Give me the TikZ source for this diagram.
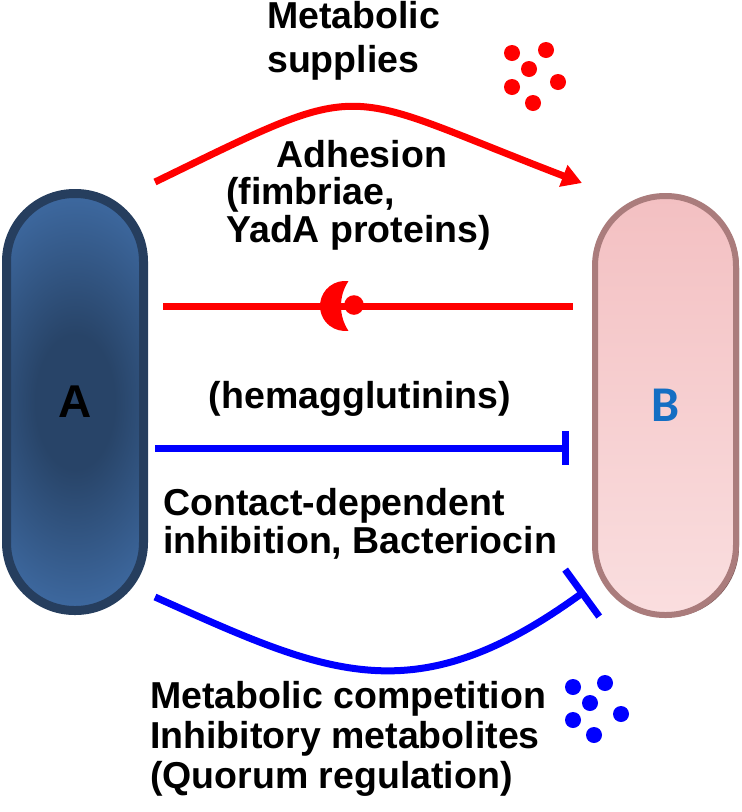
\documentclass[tikz,border=0pt]{standalone}
\usepackage{fontspec}
\setmainfont{Liberation Sans}
\newfontfamily\calib{Carlito}
\usetikzlibrary{arrows.meta,shadows}
\definecolor{Adark}{RGB}{40,68,104}
\definecolor{Alight}{RGB}{74,126,192}
\definecolor{Aborder}{RGB}{38,62,94}
\definecolor{Btop}{RGB}{243,192,194}
\definecolor{Bbot}{RGB}{250,222,223}
\definecolor{Bborder}{RGB}{170,124,124}
\definecolor{Bshadow}{RGB}{120,84,84}
\definecolor{Blabel}{RGB}{20,110,195}
\definecolor{myred}{RGB}{255,0,0}
\definecolor{myblue}{RGB}{0,0,255}
\pgfdeclareradialshading{cellAshade}{\pgfpoint{0bp}{0bp}}{color(0bp)=(Adark); color(3bp)=(Adark); color(13bp)=(Alight); color(50bp)=(Alight)}
\begin{document}
\begin{tikzpicture}[x=1pt,y=-1pt,
  txt/.style={inner sep=0pt, align=left, font=\bfseries\fontsize{37.5}{#1}\selectfont},
  txt/.default=40,
  redline/.style={draw=myred, line width=7pt},
  blueline/.style={draw=myblue, line width=7pt},
  reddot/.style={fill=myred},
  bluedot/.style={fill=myblue}]
\useasboundingbox (0,0) rectangle (742,812);

% cells
\node[draw=Aborder, line width=9pt, fill=Alight, rounded corners=68pt,
  minimum width=137pt, minimum height=417pt, inner sep=0pt,
  path picture={\path[shading=cellAshade]
     (path picture bounding box.center) ellipse [x radius=330pt, y radius=560pt];},
  font=\bfseries\fontsize{46}{46}\selectfont] (A) at (75,402) {A};
\node[draw=Bborder, line width=6pt, top color=Btop, bottom color=Bbot, rounded corners=70pt,
  minimum width=141pt, minimum height=419pt, inner sep=0pt,
  drop shadow={shadow xshift=3pt, shadow yshift=-2pt, fill=Bshadow, opacity=1},
  text=Blabel, font=\calib\bfseries\fontsize{50}{50}\selectfont] (B) at (665.5,405.5) {B};

% connector end points
\coordinate (r1s) at (155,182);
\coordinate (r1e) at (582,183);
\coordinate (r2s) at (163,306);
\coordinate (r2e) at (573,306);
\coordinate (b1s) at (155,448);
\coordinate (b1e) at (569,448);
\coordinate (b2s) at (155,597);
\coordinate (b2e) at (585,591);
\coordinate (cres) at (348.4,281.2);

% metabolic supplies arrow
\draw[redline, -{Triangle[length=20pt,width=22pt]}] (r1s) .. controls (373,76) and (334,88) .. (r1e);

% adhesion
\draw[redline] (r2s) -- (r2e);
\fill[myred] (cres) arc[start angle=-82.2, end angle=-277.8, radius=25]
   arc[start angle=146.6, end angle=213.4, radius=45] -- cycle;
\fill[myred] (354,305) circle [radius=9.8pt];

% contact-dependent inhibition
\draw[blueline, -{Bar[width=34pt]}] (b1s) -- (b1e);

% metabolic competition
\draw[blueline, -{Bar[width=58pt]}] (b2s) .. controls (327,674) and (413,716) .. (b2e);

% dots
\foreach \p in {(512,53),(546,50),(529,69),(512,87),(558,82),(533,103)}
  \fill[reddot] \p circle [radius=8pt];
\foreach \p in {(573,687),(605,683),(590,703),(573,720),(621,714),(594,735)}
  \fill[bluedot] \p circle [radius=8pt];

% texts
\node[txt=44, anchor=north west] (t1) at (267,-2) {\rule{0pt}{30pt}Metabolic\\supplies};
\node[txt=37.5, anchor=north west] (t2) at (226,137) {\rule{0pt}{30pt}\hspace*{50pt}Adhesion\\(fimbriae,\\YadA proteins)};
\node[txt, anchor=north] (t3) at (360,378) {\rule{0pt}{30pt}(hemagglutinins)};
\node[txt=38, anchor=north west] (t4) at (163,485) {\rule{0pt}{30pt}Contact-dependent\\inhibition, Bacteriocin};
\node[txt=40, anchor=north west] (t5) at (150,678) {\rule{0pt}{30pt}Metabolic competition\\Inhibitory metabolites\\(Quorum regulation)};
\end{tikzpicture}
\end{document}
